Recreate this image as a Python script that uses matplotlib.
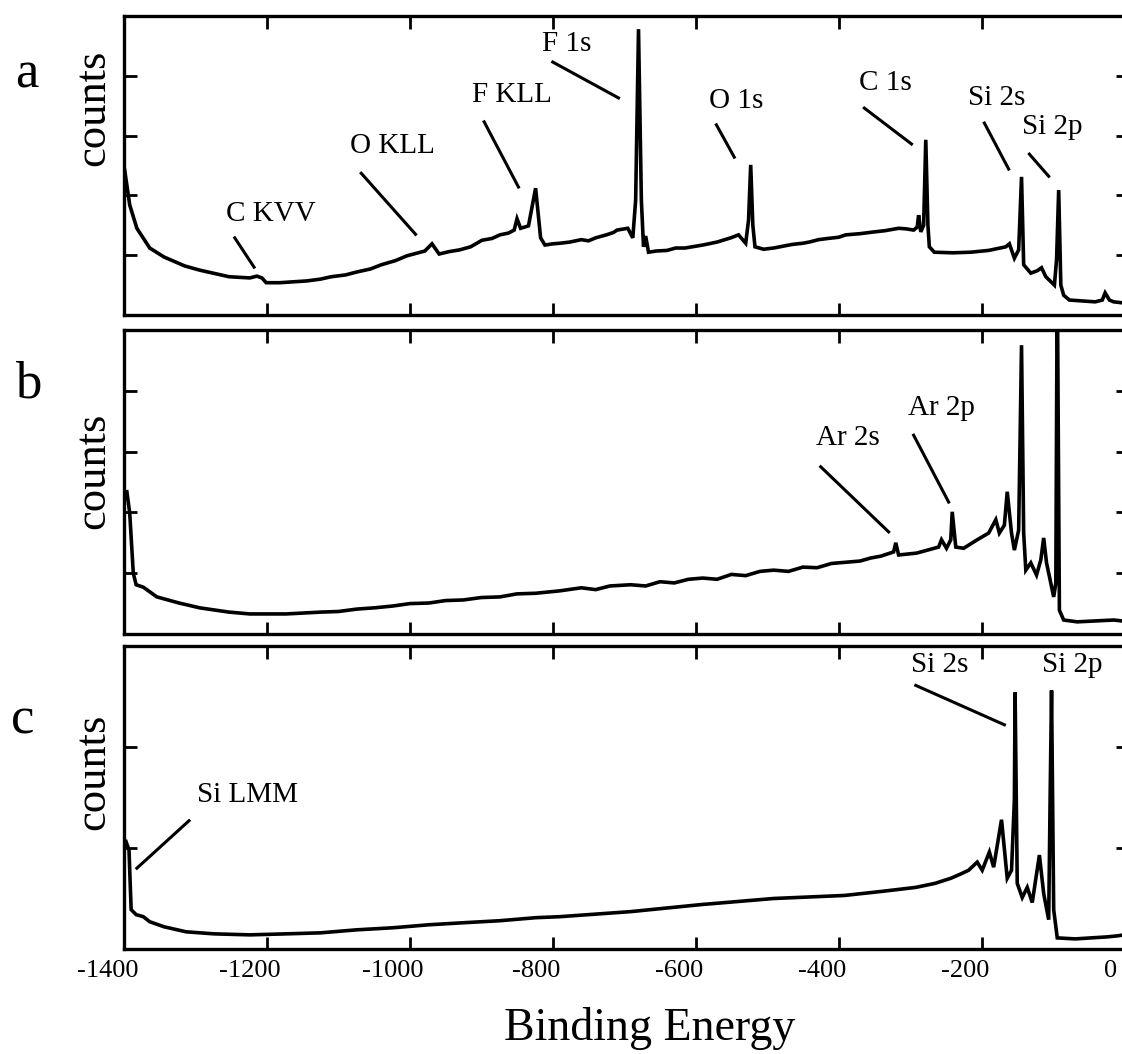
import matplotlib
matplotlib.use("Agg")
import matplotlib.pyplot as plt
import matplotlib.transforms as mtransforms

plt.rcParams['font.family'] = ['Liberation Serif', 'DejaVu Serif']
plt.rcParams['axes.unicode_minus'] = False

# spectrum a: (binding energy, counts)
energy_a = [-1399, -1392, -1382, -1364, -1344, -1315, -1294, -1253, -1224, -1214, -1207,
            -1201, -1182, -1144, -1125, -1110, -1090, -1074, -1055, -1040, -1020, -1004,
            -979, -969, -959, -945, -930, -915, -899, -885, -874, -862, -854, -850, -845,
            -834, -824, -817, -811, -800, -790, -776, -760, -750, -740, -725, -715, -710,
            -695, -688, -684, -680, -676, -673, -670, -666, -655, -640, -628, -615, -600,
            -590, -570, -551, -540, -530, -526, -523, -520, -517, -505, -491, -478, -465,
            -450, -441, -428, -415, -400, -390, -370, -350, -335, -316, -305, -295, -290,
            -288, -285, -281, -278, -275, -273, -266, -240, -215, -190, -166, -161, -154,
            -148, -144, -141, -131, -122, -116, -110, -98, -95, -92, -89, -85, -77, -41,
            -31, -27, -21, -15, 0]
counts_a = [2.42, 1.84, 1.45, 1.12, 0.97, 0.82, 0.75, 0.64, 0.62, 0.65, 0.62,
            0.54, 0.54, 0.57, 0.60, 0.64, 0.67, 0.72, 0.77, 0.84, 0.91, 0.99,
            1.07, 1.19, 1.02, 1.06, 1.09, 1.14, 1.25, 1.28, 1.34, 1.37, 1.42, 1.61, 1.45,
            1.49, 2.12, 1.29, 1.17, 1.19, 1.20, 1.22, 1.26, 1.24, 1.29, 1.34, 1.38, 1.42,
            1.45, 1.29, 1.92, 4.78, 1.92, 1.14, 1.32, 1.05, 1.07, 1.08, 1.12, 1.12, 1.15,
            1.17, 1.22, 1.29, 1.34, 1.20, 1.59, 2.51, 1.50, 1.14, 1.10, 1.12, 1.15, 1.18,
            1.20, 1.22, 1.26, 1.28, 1.30, 1.34, 1.36, 1.39, 1.41, 1.45, 1.44, 1.42, 1.47,
            1.67, 1.39, 1.50, 2.93, 1.50, 1.14, 1.05, 1.04, 1.05, 1.08, 1.14, 1.19, 0.95,
            1.09, 2.31, 0.84, 0.70, 0.74, 0.79, 0.64, 0.50, 0.92, 2.09, 0.50, 0.33, 0.25,
            0.22, 0.25, 0.37, 0.25, 0.22, 0.20]

# spectrum b
energy_b = [-1396, -1392, -1387, -1383, -1373, -1354, -1323, -1294, -1253, -1224, -1173,
            -1125, -1100, -1074, -1050, -1024, -1000, -973, -950, -925, -900, -874, -850,
            -824, -790, -760, -740, -720, -691, -670, -650, -630, -610, -590, -570, -550,
            -530, -510, -491, -470, -450, -430, -410, -390, -370, -355, -341, -323, -320,
            -316, -291, -260, -256, -249, -243, -241, -236, -225, -206, -190, -180, -175,
            -168, -164, -158, -154, -148, -144, -141, -138, -131, -123, -117, -113, -109,
            -99, -96, -94, -91, -85, -66, -15, 0]
counts_b = [2.34, 1.99, 1.00, 0.81, 0.77, 0.61, 0.51, 0.43, 0.36, 0.33, 0.33,
            0.36, 0.37, 0.41, 0.43, 0.46, 0.50, 0.51, 0.55, 0.56, 0.60, 0.61, 0.66,
            0.67, 0.71, 0.76, 0.73, 0.79, 0.81, 0.79, 0.86, 0.84, 0.90, 0.92, 0.90, 0.98,
            0.96, 1.03, 1.05, 1.03, 1.10, 1.09, 1.16, 1.18, 1.20, 1.25, 1.28, 1.35, 1.50,
            1.30, 1.33, 1.43, 1.55, 1.41, 1.55, 2.01, 1.43, 1.41, 1.55, 1.66, 1.88, 1.66,
            1.79, 2.34, 1.66, 1.38, 1.71, 4.75, 1.66, 1.05, 1.17, 0.97, 1.22, 1.58, 1.17,
            0.61, 0.84, 6.00, 0.39, 0.23, 0.20, 0.23, 0.21]

# spectrum c
energy_c = [-1399, -1397, -1393, -1390, -1383, -1373, -1364, -1344, -1313, -1274, -1224,
            -1173, -1125, -1074, -1024, -973, -925, -874, -824, -790, -691, -592, -491,
            -392, -340, -292, -265, -243, -230, -218, -206, -199, -189, -183, -172, -164,
            -158, -154, -153, -150, -143, -136, -129, -119, -113, -106, -104, -102, -99,
            -94, -69, -24, -10, 0]
counts_c = [1.05, 1.06, 0.98, 0.39, 0.34, 0.32, 0.27, 0.22, 0.17, 0.15, 0.14,
            0.15, 0.16, 0.19, 0.21, 0.24, 0.26, 0.28, 0.31, 0.32, 0.37, 0.44, 0.50,
            0.53, 0.57, 0.61, 0.65, 0.70, 0.74, 0.78, 0.86, 0.78, 0.96, 0.81, 1.28, 0.70,
            0.78, 1.48, 2.54, 0.65, 0.51, 0.61, 0.46, 0.93, 0.55, 0.29, 1.48, 2.56, 0.39,
            0.11, 0.10, 0.12, 0.13, 0.14]

# peak labels: (text, text_x, text_y, line_x0, line_y0, line_x1, line_y1)
labels_a = [("C KVV", -1194, 1.69, -1245, 1.29, -1218, 0.80),
            ("O KLL", -1024, 2.83, -1068, 2.37, -992, 1.35),
            ("F KLL", -857, 3.68, -896, 3.23, -848, 2.14),
            ("F 1s", -780, 4.53, -800, 4.23, -708, 3.63),
            ("O 1s", -543, 3.58, -571, 3.18, -546, 2.64),
            ("C 1s", -334, 3.88, -364, 3.46, -298, 2.86),
            ("Si 2s", -179, 3.63, -196, 3.21, -162, 2.44),
            ("Si 2p", -101, 3.14, -133, 2.69, -106, 2.32)]
labels_b = [("Ar 2s", -387, 3.22, -425, 2.75, -330, 1.68),
            ("Ar 2p", -256, 3.72, -295, 3.27, -246, 2.17)]
labels_c = [("Si LMM", -1227, 1.52, -1309, 1.27, -1382, 0.80),
            ("Si 2s", -259, 2.81, -292, 2.61, -168, 2.22),
            ("Si 2p", -73, 2.81, None, None, None, None)]

x_ticks = list(range(-1400, 1, 200))

fig = plt.figure(figsize=(11.22, 10.54), dpi=100)
W, H = 1122, 1054
# axes boxes in pixels: top, bottom, y-label centre, letter (x, y)
boxes = [(16, 315, 108, "a", 27, 74), (330, 634, 471, "b", 28, 385), (646, 949, 772, "c", 23, 720)]
left_px, right_px = 124, 1128

data = [(energy_a, counts_a, 5, [1, 2, 3, 4], labels_a),
        (energy_b, counts_b, 5, [1, 2, 3, 4], labels_b),
        (energy_c, counts_c, 3, [1, 2], labels_c)]

for i, ((top, bot, yc, letter, lx, ly), (ex, cy, ymax, yt, labs)) in enumerate(zip(boxes, data)):
    ax = fig.add_axes([left_px / W, 1 - bot / H, (right_px - left_px) / W, (bot - top) / H])
    ax.plot(ex, cy, color="black", lw=2.6, solid_joinstyle="miter")
    ax.set_xlim(-1400, 5)
    ax.set_ylim(0, ymax)
    ax.set_xticks(x_ticks)
    ax.set_yticks(yt)
    ax.tick_params(direction="in", length=9, width=2, top=True, right=True,
                   labelsize=19, pad=8)
    ax.tick_params(axis="y", labelleft=False)
    for sp in ax.spines.values():
        sp.set_linewidth(2.4)
    if i < 2:
        ax.tick_params(axis="x", labelbottom=False)
    else:
        fig.canvas.draw()
        for lab in ax.get_xticklabels():
            shift = -12 if lab.get_text().startswith("-") else -10
            off = mtransforms.ScaledTranslation(shift / 72, 0, fig.dpi_scale_trans)
            lab.set_transform(lab.get_transform() + off)
    for txt, tx, ty, x0, y0, x1, y1 in labs:
        ax.text(tx, ty, txt, fontsize=21, ha="center", va="center")
        if x0 is not None:
            ax.plot([x0, x1], [y0, y1], color="black", lw=2.2)
    fig.text(93 / W, 1 - yc / H, "counts", rotation=90,
             fontsize=32, ha="center", va="center")
    fig.text(lx / W, 1 - ly / H, letter, fontsize=38, ha="center", va="center")

fig.text(650 / W, 1 - 1028 / H, "Binding Energy", fontsize=33, ha="center", va="center")

fig.savefig("out.png", dpi=100)
